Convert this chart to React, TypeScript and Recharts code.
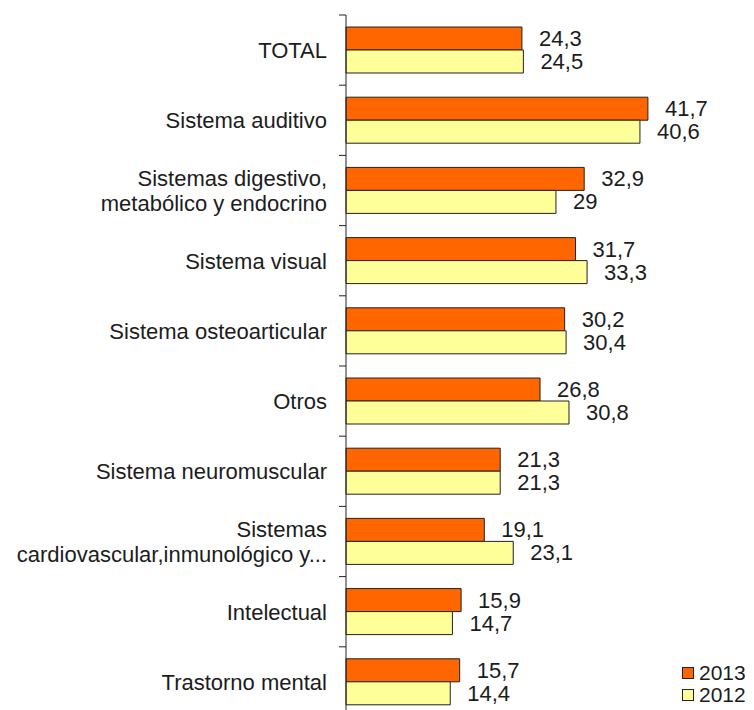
import React from "react";
import { BarChart, Bar, XAxis, YAxis, LabelList } from "recharts";

const categories = [
  "TOTAL",
  "Sistema auditivo",
  "Sistemas digestivo,\nmetabólico y endocrino",
  "Sistema visual",
  "Sistema osteoarticular",
  "Otros",
  "Sistema neuromuscular",
  "Sistemas\ncardiovascular,inmunológico y...",
  "Intelectual",
  "Trastorno mental",
];
const values2013 = [24.3, 41.7, 32.9, 31.7, 30.2, 26.8, 21.3, 19.1, 15.9, 15.7];
const values2012 = [24.5, 40.6, 29, 33.3, 30.4, 30.8, 21.3, 23.1, 14.7, 14.4];
const seriesNames = ["2013", "2012"];

const data = categories.map((name, i) => ({
  name,
  v2013: values2013[i],
  v2012: values2012[i],
}));

const W = 754;
const H = 730;
const M_TOP = 15;
const M_BOTTOM = 13;
const AXIS_X = 346;
const BAND = (H - M_TOP - M_BOTTOM) / categories.length;
const FONT = "'Liberation Sans', Arial, sans-serif";
const TXT = "#1c1c1c";

const fmt = (v: any) => String(v).replace(".", ",");

const Tick = (props: any) => {
  const { y, payload, index } = props;
  const lines = String(payload.value).split("\n");
  const lh = 25;
  const y0 = y - ((lines.length - 1) * lh) / 2;
  return (
    <g>
      <line x1={AXIS_X - 7} x2={AXIS_X} y1={y - BAND / 2} y2={y - BAND / 2} stroke="#222" strokeWidth={1} />
      {index === categories.length - 1 && (
        <line x1={AXIS_X - 7} x2={AXIS_X} y1={y + BAND / 2} y2={y + BAND / 2} stroke="#222" strokeWidth={1} />
      )}
      <text
        x={AXIS_X - 19}
        y={y0}
        textAnchor="end"
        dominantBaseline="central"
        fontFamily={FONT}
        fontSize={22}
        fill={TXT}
      >
        {lines.map((l, i) => (
          <tspan key={i} x={AXIS_X - 19} y={y0 + i * lh}>
            {l}
          </tspan>
        ))}
      </text>
    </g>
  );
};

const ValueLabel = (props: any) => {
  const { x, y, width, height, value } = props;
  return (
    <text
      x={x + width + 17}
      y={y + height / 2}
      dominantBaseline="central"
      fontFamily={FONT}
      fontSize={22}
      fill={TXT}
    >
      {fmt(value)}
    </text>
  );
};

const colors = ["#FF6600", "#FFFF99"];

export default function App() {
  return (
    <div style={{ position: "absolute", left: 0, top: 0, width: W, height: 710, overflow: "hidden", background: "#fff" }}>
      <BarChart
        width={W}
        height={H}
        data={data}
        layout="vertical"
        margin={{ top: M_TOP, right: 46, left: 0, bottom: M_BOTTOM }}
        barGap={0}
      >
        <XAxis type="number" domain={[0, 50]} hide />
        <YAxis
          type="category"
          dataKey="name"
          width={AXIS_X}
          axisLine={{ stroke: "#222", strokeWidth: 1 }}
          tickLine={false}
          tick={<Tick />}
          interval={0}
        />
        <Bar dataKey="v2013" name={seriesNames[0]} fill={colors[0]} stroke="#222" strokeWidth={1} barSize={23} isAnimationActive={false}>
          <LabelList dataKey="v2013" content={<ValueLabel />} />
        </Bar>
        <Bar dataKey="v2012" name={seriesNames[1]} fill={colors[1]} stroke="#222" strokeWidth={1} barSize={23} isAnimationActive={false}>
          <LabelList dataKey="v2012" content={<ValueLabel />} />
        </Bar>
      </BarChart>
      <div style={{ position: "absolute", left: 682, top: 662, fontFamily: FONT, fontSize: 21, color: TXT, lineHeight: "22px" }}>
        {seriesNames.map((n, i) => (
          <div key={n} style={{ display: "flex", alignItems: "center" }}>
            <span style={{ display: "inline-block", width: 10, height: 10, background: colors[i], border: "1px solid #222", marginRight: 5 }} />
            <span>{n}</span>
          </div>
        ))}
      </div>
    </div>
  );
}
